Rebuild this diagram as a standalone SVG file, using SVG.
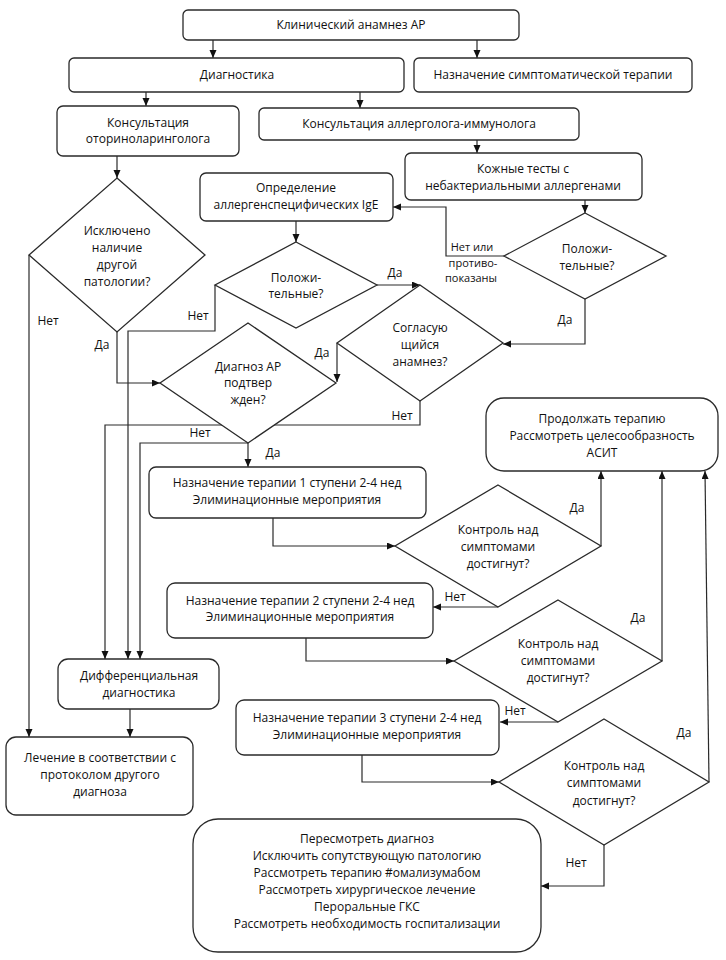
<svg xmlns="http://www.w3.org/2000/svg" width="726" height="960" viewBox="0 0 726 960">
<defs>
<marker id="ah" markerUnits="userSpaceOnUse" markerWidth="9" markerHeight="8" refX="8" refY="3.5" orient="auto">
<path d="M0,0 L8,3.5 L0,7 z" fill="#111"/>
</marker>
<style>
.box{fill:#fff;stroke:#2a2a2a;stroke-width:1.3}
.dia{fill:#fff;stroke:#2a2a2a;stroke-width:1.3}
.c{fill:none;stroke:#2a2a2a;stroke-width:1.2;marker-end:url(#ah)}
text{font-family:"Open Sans","Noto Sans","Liberation Sans",sans-serif;font-size:12px;fill:#111;text-anchor:middle}
.sm{font-size:11px}
</style>
</defs>
<rect width="726" height="960" fill="#fff"/>

<g id="connectors">
<path class="c" d="M213,40 V58"/>
<path class="c" d="M477,40 V58"/>
<path class="c" d="M146,92 V106"/>
<path class="c" d="M360,92 V108"/>
<path class="c" d="M117,156 V178"/>
<path class="c" d="M477,140 V153"/>
<path class="c" d="M585,200 V213"/>
<path class="c" d="M296,221 V242"/>
<path class="c" d="M504,256 H446 V207 H393"/>
<path class="c" d="M585,299 V344 H503"/>
<path class="c" d="M377,285 H420"/>
<path class="c" d="M215,285 V331 H128 V659"/>
<path class="c" d="M29,255 V737"/>
<path class="c" d="M117,332 V383 H160"/>
<path class="c" d="M337,343 V382"/>
<path class="c" d="M420,401 V425 H105 V659"/>
<path class="c" d="M248,443 H140 V659"/>
<path class="c" d="M248,443 V467"/>
<path class="c" d="M273,518 V546 H395"/>
<path class="c" d="M601,546 V471"/>
<path class="c" d="M498,607 H433"/>
<path class="c" d="M306,638 V661 H454"/>
<path class="c" d="M662,661 V471"/>
<path class="c" d="M558,722 H500"/>
<path class="c" d="M362,755 V782 H499"/>
<path class="c" d="M709,782 L705,471"/>
<path class="c" d="M604,845 V886 H541"/>
<path class="c" d="M130,709 V737"/>
<text class="sm" x="472" y="251">Нет или</text>
<text class="sm" x="473" y="267">противо-</text>
<text class="sm" x="471" y="282">показаны</text>
<text x="565" y="324">Да</text>
<text x="395" y="277">Да</text>
<text x="198" y="320">Нет</text>
<text x="48" y="325">Нет</text>
<text x="102" y="349">Да</text>
<text x="322" y="357">Да</text>
<text x="402" y="420">Нет</text>
<text x="200" y="437">Нет</text>
<text x="273" y="457">Да</text>
<text x="577" y="512">Да</text>
<text x="455" y="601">Нет</text>
<text x="638" y="622">Да</text>
<text x="515" y="715">Нет</text>
<text x="684" y="737">Да</text>
<text x="576" y="867">Нет</text>
</g>

<g id="n1"><rect class="box" x="183" y="10" width="336" height="30" rx="5"/><text x="351" y="29">Клинический анамнез АР</text></g>
<g id="n2"><rect class="box" x="69" y="58" width="335" height="34" rx="5"/><text x="237" y="79">Диагностика</text></g>
<g id="n3"><rect class="box" x="414" y="58" width="278" height="34" rx="5"/><text x="553" y="79">Назначение симптоматической терапии</text></g>
<g id="n4"><rect class="box" x="57" y="106" width="182" height="50" rx="6"/><text x="148" y="127">Консультация</text><text x="148" y="143">оториноларинголога</text></g>
<g id="n5"><rect class="box" x="259" y="108" width="320" height="32" rx="5"/><text x="419" y="128">Консультация аллерголога-иммунолога</text></g>
<g id="n6"><rect class="box" x="405" y="153" width="237" height="47" rx="6"/><text x="523" y="173">Кожные тесты с</text><text x="523" y="190">небактериальными аллергенами</text></g>
<g id="n7"><rect class="box" x="200" y="173" width="193" height="48" rx="6"/><text x="296" y="192">Определение</text><text x="296" y="209">аллергенспецифических IgE</text></g>
<g id="d1"><polygon class="dia" points="117,178 205,255 117,332 29,255"/><text x="117" y="235">Исключено</text><text x="117" y="252">наличие</text><text x="117" y="269">другой</text><text x="117" y="286">патологии?</text></g>
<g id="d2"><polygon class="dia" points="296,242 377,285 296,328 215,285"/><text x="296" y="282">Положи-</text><text x="296" y="298">тельные?</text></g>
<g id="d3"><polygon class="dia" points="585,213 666,256 585,299 504,256"/><text x="587" y="253">Положи-</text><text x="587" y="270">тельные?</text></g>
<g id="d4"><polygon class="dia" points="420,285 503,343 420,401 337,343"/><text x="420" y="332">Согласую</text><text x="420" y="349">щийся</text><text x="420" y="366">анамнез?</text></g>
<g id="d5"><polygon class="dia" points="248,323 336,383 248,443 160,383"/><text x="248" y="371">Диагноз АР</text><text x="248" y="387">подтвер</text><text x="248" y="404">жден?</text></g>
<g id="n8"><rect class="box" x="149" y="467" width="277" height="51" rx="7"/><text x="287" y="487">Назначение терапии 1 ступени 2-4 нед</text><text x="287" y="504">Элиминационные мероприятия</text></g>
<g id="d6"><polygon class="dia" points="498,485 601,546 498,607 395,546"/><text x="498" y="534">Контроль над</text><text x="498" y="551">симптомами</text><text x="498" y="568">достигнут?</text></g>
<g id="n9"><rect class="box" x="486" y="398" width="232" height="73" rx="18"/><text x="602" y="423">Продолжать терапию</text><text x="602" y="440">Рассмотреть целесообразность</text><text x="602" y="457">АСИТ</text></g>
<g id="n10"><rect class="box" x="167" y="583" width="266" height="55" rx="8"/><text x="300" y="605">Назначение терапии 2 ступени 2-4 нед</text><text x="300" y="621">Элиминационные мероприятия</text></g>
<g id="d7"><polygon class="dia" points="558,600 662,661 558,722 454,661"/><text x="558" y="648">Контроль над</text><text x="558" y="665">симптомами</text><text x="558" y="682">достигнут?</text></g>
<g id="n11"><rect class="box" x="236" y="700" width="263" height="55" rx="8"/><text x="367" y="722">Назначение терапии 3 ступени 2-4 нед</text><text x="367" y="739">Элиминационные мероприятия</text></g>
<g id="d8"><polygon class="dia" points="604,719 709,782 604,845 499,782"/><text x="604" y="770">Контроль над</text><text x="604" y="787">симптомами</text><text x="604" y="805">достигнут?</text></g>
<g id="n12"><rect class="box" x="193" y="819" width="348" height="133" rx="25"/><text x="367" y="843">Пересмотреть диагноз</text><text x="367" y="860">Исключить сопутствующую патологию</text><text x="367" y="877">Рассмотреть терапию #омализумабом</text><text x="367" y="894">Рассмотреть хирургическое лечение</text><text x="367" y="911">Пероральные ГКС</text><text x="367" y="928">Рассмотреть необходимость госпитализации</text></g>
<g id="n13"><rect class="box" x="58" y="659" width="161" height="50" rx="10"/><text x="139" y="680">Дифференциальная</text><text x="139" y="697">диагностика</text></g>
<g id="n14"><rect class="box" x="6" y="737" width="187" height="78" rx="10"/><text x="100" y="762">Лечение в соответствии с</text><text x="100" y="779">протоколом другого</text><text x="100" y="796">диагноза</text></g>
</svg>
